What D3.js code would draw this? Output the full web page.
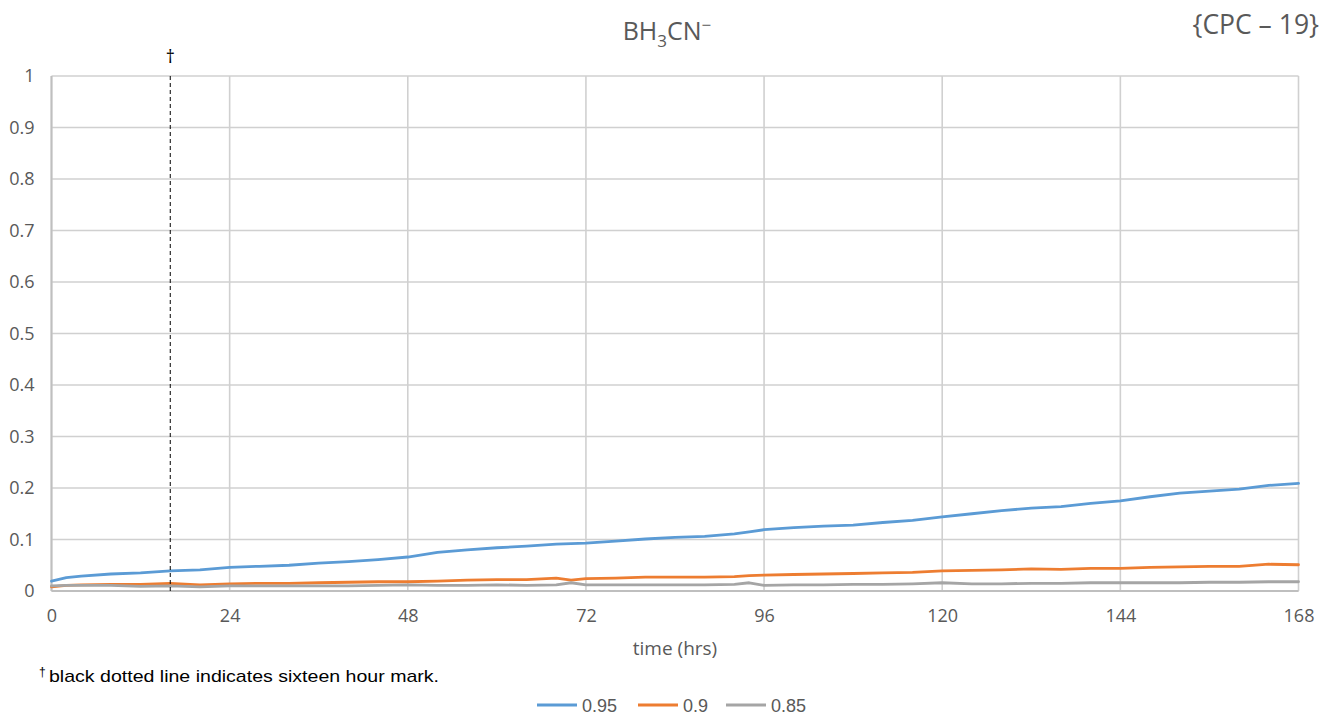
<!DOCTYPE html>
<html>
<head>
<meta charset="utf-8">
<script src="https://cdn.jsdelivr.net/npm/d3@7"></script>
<style>
  html, body { margin: 0; padding: 0; background: #fff; }
  svg { display: block; }
  text { font-family: "Open Sans", "Noto Sans", sans-serif; fill: #595959; }
</style>
</head>
<body>
<svg id="chart" width="1325" height="717"></svg>
<script>
// Sampling times (hours)
const hours = [0, 2, 4, 8, 12, 16, 20, 24, 28, 32, 36, 40, 44, 48, 52, 56, 60, 64, 68, 70, 72,
  76, 80, 84, 88, 92, 94, 96, 100, 104, 108, 112, 116, 120, 124, 128, 132, 136, 140, 144,
  148, 152, 156, 160, 164, 168];

// Series values
const s095 = [0.019, 0.026, 0.029, 0.033, 0.035, 0.039, 0.041, 0.046, 0.048, 0.050, 0.054, 0.057,
  0.061, 0.066, 0.075, 0.080, 0.084, 0.087, 0.091, 0.092, 0.093, 0.097, 0.101, 0.104, 0.106,
  0.111, 0.115, 0.119, 0.123, 0.126, 0.128, 0.133, 0.137, 0.144, 0.150, 0.156, 0.161, 0.164,
  0.170, 0.175, 0.183, 0.190, 0.194, 0.198, 0.205, 0.209];
const s090 = [0.008, 0.011, 0.012, 0.013, 0.013, 0.015, 0.012, 0.014, 0.015, 0.015, 0.016, 0.017,
  0.018, 0.018, 0.019, 0.021, 0.022, 0.022, 0.025, 0.021, 0.024, 0.025, 0.027, 0.027, 0.027,
  0.028, 0.030, 0.031, 0.032, 0.033, 0.034, 0.035, 0.036, 0.039, 0.040, 0.041, 0.043, 0.042,
  0.044, 0.044, 0.046, 0.047, 0.048, 0.048, 0.052, 0.051];
const s085 = [0.010, 0.011, 0.011, 0.011, 0.009, 0.010, 0.008, 0.010, 0.010, 0.010, 0.010, 0.010,
  0.011, 0.012, 0.011, 0.011, 0.012, 0.011, 0.012, 0.016, 0.012, 0.012, 0.012, 0.012, 0.012,
  0.013, 0.016, 0.011, 0.012, 0.012, 0.013, 0.013, 0.014, 0.016, 0.014, 0.014, 0.015, 0.015,
  0.016, 0.016, 0.016, 0.016, 0.017, 0.017, 0.018, 0.018];

const seriesNames = ["0.95", "0.9", "0.85"];
const seriesColors = ["#5b9bd5", "#ed7d31", "#a5a5a5"];
const xTicks = [0, 24, 48, 72, 96, 120, 144, 168];
const yTicks = [0, 0.1, 0.2, 0.3, 0.4, 0.5, 0.6, 0.7, 0.8, 0.9, 1];
const markHour = 16;

const svg = d3.select("#chart");
const plot = { left: 51.5, right: 1298.5, top: 76, bottom: 591 };

const x = d3.scaleLinear().domain([0, 168]).range([plot.left, plot.right]);
const y = d3.scaleLinear().domain([0, 1]).range([plot.bottom, plot.top]);

// Gridlines
const grid = svg.append("g");
grid.selectAll("line.h").data(yTicks).join("line")
  .attr("x1", plot.left).attr("x2", plot.right)
  .attr("y1", d => y(d)).attr("y2", d => y(d))
  .attr("stroke", "#d0d0d0").attr("stroke-width", 1.6);
grid.selectAll("line.v").data(xTicks).join("line")
  .attr("y1", plot.top).attr("y2", plot.bottom)
  .attr("x1", d => x(d)).attr("x2", d => x(d))
  .attr("stroke", "#d0d0d0").attr("stroke-width", 1.6);

// Axes (labels only; lines drawn separately)
const yAxis = svg.append("g").attr("transform", `translate(${plot.left - 17},0)`)
  .call(d3.axisLeft(y).tickValues(yTicks).tickSize(0).tickPadding(0).tickFormat(d => d3.format("")(+d.toFixed(1))));
yAxis.select(".domain").remove();
yAxis.selectAll("text").attr("font-size", 18).attr("fill", "#595959")
  .style("font-family", '"Open Sans", sans-serif');

const xAxis = svg.append("g").attr("transform", `translate(0,${plot.bottom + 18})`)
  .call(d3.axisBottom(x).tickValues(xTicks).tickSize(0).tickPadding(0));
xAxis.select(".domain").remove();
xAxis.selectAll("text").attr("font-size", 18).attr("fill", "#595959")
  .style("font-family", '"Open Sans", sans-serif');

// Axis lines
svg.append("line").attr("x1", plot.left).attr("x2", plot.right)
  .attr("y1", plot.bottom).attr("y2", plot.bottom)
  .attr("stroke", "#bfbfbf").attr("stroke-width", 2);
svg.append("line").attr("x1", plot.left).attr("x2", plot.left)
  .attr("y1", plot.top).attr("y2", plot.bottom)
  .attr("stroke", "#bfbfbf").attr("stroke-width", 2);

// Series lines
const seriesData = [s095, s090, s085];
const line = d3.line().x((d, i) => x(hours[i])).y(d => y(d));
svg.append("g").selectAll("path").data(seriesData).join("path")
  .attr("d", d => line(d))
  .attr("fill", "none")
  .attr("stroke", (d, i) => seriesColors[i])
  .attr("stroke-width", 2.8)
  .attr("stroke-linejoin", "round")
  .attr("stroke-linecap", "round");

// Sixteen-hour marker
svg.append("line")
  .attr("x1", x(markHour)).attr("x2", x(markHour))
  .attr("y1", plot.top).attr("y2", plot.bottom)
  .attr("stroke", "#000").attr("stroke-width", 1)
  .attr("stroke-dasharray", "4,3");
svg.append("text").attr("x", x(markHour)).attr("y", 63)
  .attr("text-anchor", "middle").attr("font-size", 18).style("fill", "#000")
  .text("†");

// Title
const title = svg.append("text").attr("x", 667).attr("y", 40)
  .attr("text-anchor", "middle").attr("font-size", 25);
title.append("tspan").text("BH");
title.append("tspan").attr("font-size", 17).attr("dy", 7).text("3");
title.append("tspan").attr("dy", -7).text("CN");
title.append("tspan").attr("font-size", 17).attr("dy", -9).text("−");

svg.append("text").attr("x", 1319).attr("y", 34)
  .attr("text-anchor", "end").attr("font-size", 26.5)
  .text("{CPC – 19}");

// Axis title
svg.append("text").attr("x", 675).attr("y", 655)
  .attr("text-anchor", "middle").attr("font-size", 19)
  .text("time (hrs)");

// Footnote
svg.append("text").attr("x", 39).attr("y", 676).attr("font-size", 12).style("fill", "#000")
  .style("font-family", '"Liberation Sans Narrow", "Liberation Sans", sans-serif')
  .text("†");
svg.append("text").attr("x", 49).attr("y", 682).attr("font-size", 17).style("fill", "#000")
  .style("font-family", '"Liberation Sans Narrow", "Liberation Sans", sans-serif')
  .attr("textLength", 390).attr("lengthAdjust", "spacingAndGlyphs")
  .text("black dotted line indicates sixteen hour mark.");

// Legend
const legendX = [537, 638, 726];
const legend = svg.append("g");
seriesNames.forEach((name, i) => {
  legend.append("line")
    .attr("x1", legendX[i]).attr("x2", legendX[i] + 40)
    .attr("y1", 705).attr("y2", 705)
    .attr("stroke", seriesColors[i]).attr("stroke-width", 2.8);
  legend.append("text")
    .attr("x", legendX[i] + 45).attr("y", 712)
    .attr("font-size", 18)
    .style("font-family", '"Liberation Sans Narrow", "Liberation Sans", sans-serif')
    .text(name);
});
</script>
</body>
</html>
